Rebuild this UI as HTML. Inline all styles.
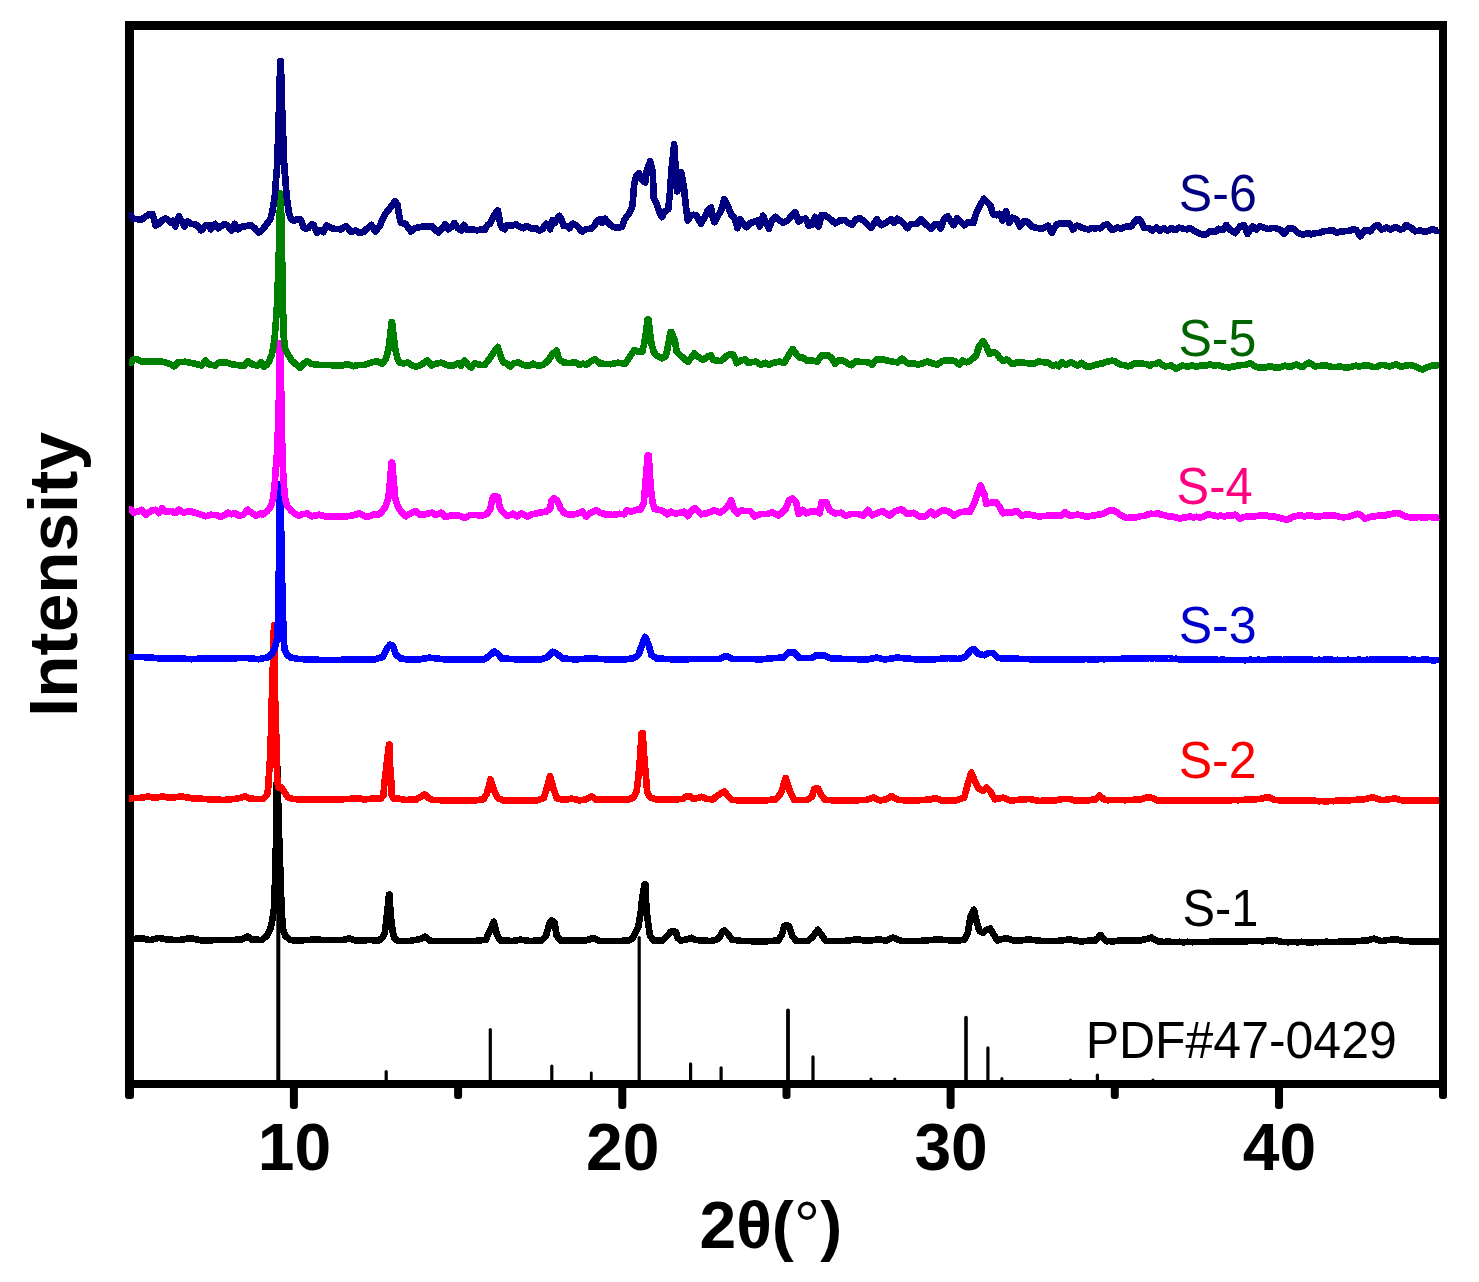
<!DOCTYPE html>
<html><head><meta charset="utf-8"><title>XRD patterns</title>
<style>
html,body{margin:0;padding:0;background:#fff;}
body{width:1479px;height:1282px;overflow:hidden;}
svg{display:block;}
text{font-family:"Liberation Sans",Arial,Helvetica,sans-serif;}
.b{font-weight:bold;}
</style></head><body>
<svg width="1479" height="1282" viewBox="0 0 1479 1282">
<rect x="0" y="0" width="1479" height="1282" fill="#ffffff"/>
<g stroke="#000" stroke-linecap="round">
<line x1="278.3" y1="906.0" x2="278.3" y2="1084" stroke-width="4.0"/>
<line x1="386.2" y1="1071.6" x2="386.2" y2="1084" stroke-width="3.2"/>
<line x1="490.3" y1="1029.6" x2="490.3" y2="1084" stroke-width="3.2"/>
<line x1="551.8" y1="1066.1" x2="551.8" y2="1084" stroke-width="3.2"/>
<line x1="591.3" y1="1072.9" x2="591.3" y2="1084" stroke-width="2.8"/>
<line x1="639.2" y1="937.6" x2="639.2" y2="1084" stroke-width="3.2"/>
<line x1="690.6" y1="1063.9" x2="690.6" y2="1084" stroke-width="3.2"/>
<line x1="721.1" y1="1067.9" x2="721.1" y2="1084" stroke-width="3.2"/>
<line x1="788.0" y1="1010.4" x2="788.0" y2="1084" stroke-width="3.8"/>
<line x1="813.0" y1="1056.9" x2="813.0" y2="1084" stroke-width="3.2"/>
<line x1="871.0" y1="1079.0" x2="871.0" y2="1084" stroke-width="3.0"/>
<line x1="894.8" y1="1079.0" x2="894.8" y2="1084" stroke-width="3.0"/>
<line x1="966.0" y1="1017.6" x2="966.0" y2="1084" stroke-width="3.6"/>
<line x1="987.9" y1="1047.8" x2="987.9" y2="1084" stroke-width="3.2"/>
<line x1="1001.9" y1="1078.5" x2="1001.9" y2="1084" stroke-width="3.0"/>
<line x1="1070.5" y1="1080.0" x2="1070.5" y2="1084" stroke-width="3.0"/>
<line x1="1097.4" y1="1075.2" x2="1097.4" y2="1084" stroke-width="3.2"/>
<line x1="1153.0" y1="1080.0" x2="1153.0" y2="1084" stroke-width="3.0"/>
</g>
<g fill="#000">
<rect x="125" y="21" width="9" height="1067"/>
<rect x="1439" y="21" width="8" height="1067"/>
<rect x="125" y="21" width="1322" height="9"/>
<rect x="125" y="1080" width="1322" height="8"/>
</g>
<g fill="#000">
<rect x="125.0" y="1084" width="9" height="15" rx="3"/>
<rect x="289.9" y="1084" width="8" height="25" rx="3"/>
<rect x="454.1" y="1084" width="8" height="15" rx="3"/>
<rect x="618.3" y="1084" width="8" height="25" rx="3"/>
<rect x="782.5" y="1084" width="8" height="15" rx="3"/>
<rect x="946.6" y="1084" width="8" height="25" rx="3"/>
<rect x="1110.8" y="1084" width="8" height="15" rx="3"/>
<rect x="1275.0" y="1084" width="8" height="25" rx="3"/>
<rect x="1439.0" y="1084" width="8" height="15" rx="3"/>
</g>
<polyline points="129.2,939.2 131.2,939.2 141.6,938.3 150.3,940.1 158.9,937.9 167.6,939.6 178.4,940.1 187.1,938.8 193.6,938.8 202.2,940.5 215.2,940.1 228.2,940.1 241.2,939.6 247.7,936.6 252.0,939.6 262.0,940.0 267.0,935.6 270.1,929.4 272.1,921.6 274.3,906.0 274.8,887.3 275.6,859.2 276.3,828.0 276.6,796.8 277.1,768.0 277.6,768.0 278.0,796.8 278.8,828.0 279.9,859.2 280.9,887.3 281.4,906.0 282.4,921.6 283.0,929.4 285.1,935.6 290.0,940.0 297.4,940.5 314.7,939.6 327.7,940.1 342.8,940.1 349.3,938.3 355.8,940.5 368.8,940.1 379.0,940.3 382.1,937.9 384.8,932.6 387.1,913.7 389.0,894.7 389.6,894.7 390.5,913.7 392.9,932.6 394.1,937.9 397.0,940.3 398.0,940.9 409.9,940.9 419.7,939.2 425.1,936.6 430.5,940.9 452.3,941.0 474.6,941.0 485.8,939.7 489.1,932.6 493.8,921.8 496.9,934.8 500.3,940.4 512.6,941.0 520.4,939.7 530.4,941.0 541.6,940.4 546.0,935.9 549.4,923.6 551.6,920.3 554.5,922.5 556.7,935.9 560.5,940.4 572.8,940.4 586.2,940.4 593.3,938.1 600.0,941.0 617.9,941.0 628.7,940.6 632.3,938.5 635.7,932.6 638.4,926.3 640.7,912.8 642.0,899.4 644.5,884.5 645.6,884.5 645.9,899.4 646.8,912.8 648.6,926.3 649.9,935.2 652.9,940.3 662.8,940.3 667.3,935.8 670.9,931.7 673.9,930.9 676.2,932.6 677.5,937.9 680.7,940.6 686.1,939.6 691.5,937.8 695.1,939.9 702.2,940.6 711.2,941.0 716.6,939.6 720.0,936.7 721.8,932.6 724.5,930.3 728.5,934.8 732.3,939.7 742.4,941.0 764.2,941.4 778.4,940.5 781.9,934.5 784.3,925.8 789.0,925.8 792.1,935.7 796.1,940.9 808.0,940.9 812.7,936.9 817.7,929.8 822.2,935.7 825.7,940.9 844.7,940.9 857.7,939.3 865.9,940.9 879.0,939.5 886.1,940.5 893.2,937.6 901.4,940.9 920.4,940.9 936.9,939.5 953.5,940.5 964.2,940.0 967.7,933.4 970.5,916.8 973.9,909.7 977.2,923.9 979.5,931.0 983.1,932.9 986.6,929.8 990.2,928.6 993.7,934.5 997.3,940.5 1005.6,938.1 1015.0,940.9 1029.2,939.5 1041.1,940.9 1057.6,940.9 1069.5,939.5 1081.3,941.4 1086.0,940.9 1089.0,940.8 1092.0,940.6 1095.0,940.6 1097.8,938.0 1100.5,935.1 1103.4,938.4 1106.3,941.3 1109.0,941.1 1111.7,941.3 1114.4,941.2 1117.1,941.0 1119.8,940.4 1122.5,940.6 1125.4,940.8 1128.4,940.4 1131.3,940.7 1134.2,940.4 1137.1,940.6 1140.0,940.6 1142.9,939.8 1145.7,939.2 1148.5,938.5 1151.3,937.6 1155.0,939.8 1158.8,941.6 1161.4,941.8 1164.0,941.9 1166.6,941.8 1169.2,941.7 1171.8,941.9 1174.4,941.9 1177.0,942.0 1179.7,941.8 1182.3,942.2 1184.9,942.2 1187.5,941.8 1190.1,942.1 1192.8,942.2 1195.4,942.0 1198.1,942.0 1200.8,942.1 1203.5,942.0 1206.2,941.9 1208.8,942.0 1211.5,941.6 1214.2,941.5 1216.9,941.6 1219.6,941.6 1222.2,941.4 1224.9,941.3 1227.6,941.6 1230.3,941.5 1233.0,941.7 1235.6,941.6 1238.3,941.4 1241.0,941.6 1243.7,941.4 1246.4,941.4 1249.0,941.0 1251.7,941.1 1254.4,941.1 1257.1,940.9 1259.8,941.1 1262.5,941.2 1265.1,941.1 1268.5,940.5 1271.8,940.3 1275.1,940.1 1278.9,941.2 1282.6,942.1 1285.4,942.0 1288.1,942.2 1290.8,941.9 1293.5,941.9 1296.2,942.2 1298.9,942.2 1301.6,941.8 1304.3,942.1 1307.0,942.2 1309.7,942.2 1312.5,942.2 1315.2,942.1 1317.8,942.2 1320.5,941.9 1323.2,942.0 1325.9,941.8 1328.6,941.9 1331.3,942.0 1333.9,942.0 1336.6,941.9 1339.3,941.8 1342.0,941.5 1344.7,941.9 1347.3,941.6 1350.0,941.8 1352.7,941.6 1355.8,941.1 1359.0,941.1 1362.1,940.8 1365.2,940.6 1368.1,940.2 1371.0,939.4 1374.0,938.6 1377.7,939.8 1381.5,941.1 1384.6,940.7 1387.7,940.0 1390.9,939.8 1394.0,939.1 1396.8,939.4 1399.6,940.3 1402.4,940.8 1405.2,941.1 1408.2,941.0 1411.1,941.4 1414.0,941.5 1416.9,941.5 1419.8,941.7 1422.7,941.6 1425.5,941.6 1428.2,941.5 1430.9,941.8 1433.6,941.6 1436.3,941.6 1439.0,941.6" fill="none" stroke="#000000" stroke-width="6.7" stroke-linejoin="round" stroke-linecap="butt" shape-rendering="crispEdges"/>
<polyline points="129.2,798.2 131.2,798.2 141.6,797.8 148.1,796.5 154.6,797.8 162.2,796.5 169.8,797.8 181.7,796.5 191.4,798.2 206.5,799.1 223.9,800.0 236.8,798.7 245.1,796.5 249.8,798.7 260.6,799.1 263.5,798.8 267.1,794.9 268.1,789.4 268.5,781.6 269.6,766.0 270.2,755.9 270.9,734.8 271.7,703.6 272.7,672.4 274.0,625.6 274.6,625.6 274.6,672.4 275.2,703.6 276.2,734.8 276.5,755.9 276.8,766.0 277.3,781.6 278.5,787.6 281.5,787.4 284.6,792.5 287.7,797.2 292.4,799.0 303.9,799.5 325.5,799.5 347.2,799.1 358.0,798.2 364.5,799.5 375.3,798.2 381.0,798.5 383.5,795.3 384.3,783.7 386.6,764.8 389.0,744.6 389.6,744.6 390.0,764.8 391.4,783.7 391.8,795.3 394.0,799.0 395.9,798.2 405.6,800.0 416.4,799.5 421.2,796.5 424.6,794.3 428.3,797.8 432.6,800.0 452.3,800.4 474.6,800.4 483.5,799.3 486.9,793.7 490.6,779.2 494.3,791.5 498.0,798.2 503.6,800.4 519.2,800.4 537.1,800.4 543.8,798.2 546.5,789.2 550.0,775.9 553.6,789.2 556.7,798.2 563.9,800.0 571.7,798.6 579.5,800.4 586.2,799.3 591.8,796.4 596.2,800.0 600.0,799.3 617.9,799.6 628.7,799.3 633.2,797.8 636.6,791.7 638.4,776.5 640.2,755.9 641.6,733.3 642.7,733.3 644.1,755.9 645.9,776.5 647.2,791.7 650.2,797.5 655.6,799.3 671.7,799.6 682.5,798.9 686.1,796.8 689.7,796.2 693.3,798.9 697.8,798.0 701.9,796.8 705.8,798.9 713.0,799.3 716.6,796.2 720.0,793.9 724.1,791.5 727.9,795.9 731.7,800.0 742.4,800.4 764.2,800.5 776.0,799.3 780.8,793.4 785.8,778.0 790.2,792.2 794.5,800.0 806.8,800.0 812.0,796.9 814.4,788.6 818.1,788.6 821.5,795.2 825.2,800.0 844.7,800.5 865.9,800.0 873.5,797.6 880.1,800.5 886.1,799.3 891.5,796.2 897.9,800.0 915.6,800.5 929.8,799.5 935.8,798.1 941.7,800.5 955.9,800.5 964.2,797.6 967.2,786.3 971.2,772.5 975.3,782.0 978.3,788.6 983.1,791.0 986.6,787.4 990.2,791.0 994.9,799.3 1003.2,797.6 1010.3,800.5 1029.2,799.0 1038.7,800.9 1055.3,800.5 1062.4,799.0 1069.5,799.0 1076.5,800.9 1086.0,800.5 1089.0,800.2 1092.0,799.8 1095.0,799.6 1099.5,795.6 1102.3,798.0 1105.0,800.1 1108.0,800.2 1111.0,800.0 1114.0,800.1 1117.0,800.1 1120.0,800.1 1122.9,800.1 1125.7,800.2 1128.6,800.0 1131.5,800.0 1134.3,799.8 1137.2,799.5 1140.0,799.6 1143.4,798.6 1146.7,797.6 1150.0,797.1 1153.8,798.8 1157.6,800.6 1160.3,800.4 1163.0,800.4 1165.7,800.4 1168.4,800.3 1171.1,800.7 1173.8,800.5 1176.5,800.7 1179.2,800.8 1181.9,800.4 1184.7,800.6 1187.4,800.3 1190.1,800.6 1192.9,800.3 1195.6,800.7 1198.4,800.3 1201.2,800.9 1204.0,800.4 1206.8,800.8 1209.5,800.8 1212.3,800.3 1215.1,800.6 1217.9,800.4 1220.7,800.4 1223.4,800.2 1226.2,800.2 1229.0,800.2 1231.8,800.2 1234.6,800.0 1237.3,800.2 1240.1,800.1 1243.0,799.9 1245.8,799.8 1248.7,799.4 1251.5,799.7 1254.4,799.3 1257.3,799.1 1260.1,799.1 1263.0,798.2 1266.0,797.6 1268.9,797.1 1272.0,798.6 1275.1,800.1 1277.9,800.1 1280.6,800.4 1283.4,800.2 1286.1,800.2 1288.9,800.5 1291.7,800.5 1294.4,800.7 1297.2,800.7 1299.9,800.6 1302.7,800.6 1305.4,800.8 1308.2,800.5 1311.0,800.6 1313.8,800.6 1316.6,801.1 1319.3,801.2 1322.1,801.0 1324.9,801.4 1327.7,801.3 1330.5,801.0 1333.2,801.2 1336.0,800.7 1338.8,800.6 1341.6,800.5 1344.4,800.5 1347.1,800.5 1349.9,800.2 1352.7,800.1 1355.8,800.0 1359.0,799.3 1362.1,799.4 1365.2,799.1 1368.1,798.3 1371.0,797.8 1374.0,797.6 1377.7,798.8 1381.5,800.1 1384.6,799.9 1387.7,799.4 1390.9,799.1 1394.0,798.6 1396.8,798.9 1399.6,799.8 1402.4,800.3 1405.2,800.6 1408.2,800.6 1411.1,800.7 1414.0,800.6 1416.9,800.8 1419.8,800.5 1422.7,800.6 1425.5,800.6 1428.2,800.4 1430.9,800.7 1433.6,800.6 1436.3,800.7 1439.0,800.6" fill="none" stroke="#ff0000" stroke-width="6.7" stroke-linejoin="round" stroke-linecap="butt" shape-rendering="crispEdges"/>
<polyline points="129.2,657.0 131.2,657.0 141.6,657.0 152.5,657.7 163.3,658.8 176.3,658.3 191.4,659.2 206.5,658.3 219.5,658.3 232.5,658.3 245.5,657.9 258.5,659.2 268.2,657.2 271.7,654.0 274.3,649.4 276.8,640.0 277.7,626.0 278.4,610.4 278.7,579.2 279.3,548.0 279.6,516.8 279.7,484.4 280.2,484.4 280.9,516.8 281.5,548.0 282.1,579.2 282.7,610.4 283.4,626.0 283.7,640.0 284.6,649.4 286.6,654.0 290.0,657.2 297.4,658.8 310.4,659.6 327.7,660.1 345.0,659.8 362.3,659.8 375.3,659.2 382.9,657.0 386.6,649.0 390.0,644.7 393.0,645.8 395.9,654.4 400.2,658.3 409.9,659.8 420.7,659.2 429.4,657.7 443.4,659.2 463.5,659.2 484.7,659.2 489.8,655.4 494.3,651.4 498.0,654.1 501.8,658.5 519.2,659.4 541.6,659.2 547.8,657.0 552.7,651.8 557.2,654.1 562.8,658.5 575.0,659.4 590.6,658.5 608.5,659.4 626.3,659.2 634.1,658.1 638.6,654.7 642.0,644.7 645.1,636.9 648.7,644.7 651.3,654.7 656.5,658.5 675.4,659.4 697.7,659.0 718.9,659.0 726.3,655.9 732.3,659.0 746.8,659.0 761.8,659.3 773.7,658.1 783.1,657.6 789.0,652.2 793.8,652.2 799.7,658.1 811.5,658.1 816.3,655.2 823.4,655.2 829.3,658.1 844.7,659.0 868.3,659.3 876.6,657.6 884.9,659.5 896.7,657.6 915.6,659.3 934.6,659.3 948.8,658.1 958.2,659.0 965.3,656.9 970.1,651.0 973.6,649.1 978.3,653.8 984.3,655.2 989.0,652.9 992.5,652.9 998.5,658.1 1010.3,658.6 1034.0,659.3 1057.6,659.3 1081.3,659.3 1084.1,659.2 1086.9,659.1 1089.7,659.5 1092.5,659.4 1095.3,659.3 1098.2,659.3 1101.0,658.9 1103.8,659.3 1106.6,658.9 1109.4,659.0 1112.2,659.1 1115.0,659.1 1117.7,658.9 1120.4,658.9 1123.0,658.8 1125.7,658.6 1128.4,658.6 1131.0,658.7 1133.7,658.7 1136.4,658.6 1139.0,658.3 1141.7,658.6 1144.4,658.4 1147.0,658.4 1149.7,658.1 1152.4,658.3 1155.0,658.1 1157.7,658.4 1160.4,658.2 1163.1,658.5 1165.8,658.7 1168.5,658.8 1171.2,658.8 1173.9,658.9 1176.6,658.8 1179.3,659.3 1182.0,659.3 1184.7,659.3 1187.4,659.6 1190.1,659.6 1192.7,659.7 1195.3,659.8 1198.0,659.8 1200.6,659.7 1203.2,659.7 1205.9,659.5 1208.5,659.7 1211.1,659.6 1213.8,659.6 1216.4,659.6 1219.0,660.0 1221.7,659.7 1224.3,659.8 1226.9,660.0 1229.6,659.9 1232.2,660.0 1234.8,659.9 1237.5,660.1 1240.1,660.1 1242.7,660.1 1245.4,660.2 1248.0,659.9 1250.6,659.8 1253.3,659.9 1255.9,660.0 1258.5,659.7 1261.2,660.1 1263.8,660.0 1266.4,660.0 1269.1,659.6 1271.7,659.8 1274.3,659.5 1277.0,659.6 1279.6,659.5 1282.2,659.9 1284.9,659.8 1287.5,659.6 1290.2,659.6 1292.8,659.6 1295.4,659.7 1298.1,659.8 1300.7,659.6 1303.3,659.6 1306.0,659.9 1308.6,659.6 1311.2,659.5 1313.9,660.0 1316.5,660.0 1319.1,659.8 1321.8,660.0 1324.4,659.7 1327.0,659.7 1329.7,659.7 1332.3,659.8 1334.9,660.0 1337.6,659.8 1340.2,660.1 1342.8,660.1 1345.5,660.0 1348.1,659.8 1350.7,660.1 1353.4,659.9 1356.0,660.0 1358.6,659.6 1361.3,659.9 1363.9,660.0 1366.5,659.8 1369.2,659.9 1371.8,659.5 1374.4,659.6 1377.1,659.8 1379.7,659.7 1382.3,659.6 1385.0,659.5 1387.6,659.5 1390.2,659.6 1392.9,659.7 1395.6,659.8 1398.4,659.8 1401.1,659.6 1403.8,659.8 1406.5,659.6 1409.2,660.0 1411.9,659.8 1414.6,659.7 1417.3,660.0 1420.0,659.9 1422.7,659.8 1425.5,659.8 1428.2,659.8 1430.9,660.1 1433.6,660.3 1436.3,660.1 1439.0,660.1" fill="none" stroke="#0000ff" stroke-width="6.7" stroke-linejoin="round" stroke-linecap="butt" shape-rendering="crispEdges"/>
<polyline points="129.2,509.8 131.2,509.8 134.1,512.7 138.4,511.4 141.6,509.8 146.0,514.8 151.4,510.5 155.7,509.8 158.9,513.1 162.2,508.3 166.5,512.0 170.8,510.9 175.2,513.1 178.8,509.8 183.8,512.7 189.2,510.9 194.6,512.7 200.1,514.2 205.5,516.3 210.9,514.8 216.3,515.2 220.6,517.0 224.9,514.8 228.2,512.7 231.4,514.2 234.7,513.1 239.0,515.7 243.3,514.8 247.7,509.8 252.0,513.1 256.3,515.7 261.7,513.1 263.0,514.5 267.4,511.0 270.9,506.3 273.2,498.5 274.6,486.0 275.6,470.4 276.8,456.4 277.6,439.2 278.7,408.0 279.4,376.8 279.6,343.6 280.1,343.6 280.9,376.8 281.5,408.0 282.1,439.2 282.4,456.4 283.0,470.4 284.0,486.0 285.1,498.5 287.4,506.3 291.6,511.0 296.0,514.5 298.5,515.7 302.8,514.2 307.1,513.5 311.5,516.3 319.0,514.8 325.5,516.3 336.4,516.3 347.2,516.3 353.7,515.2 359.1,513.5 363.4,515.7 367.7,517.0 373.1,514.8 379.6,514.2 382.0,511.7 385.7,506.3 388.4,497.3 390.2,479.4 391.5,462.7 392.1,462.7 393.6,479.4 395.0,497.3 397.7,506.3 401.0,511.7 405.6,516.3 411.0,513.1 415.3,510.9 419.7,514.8 425.1,514.2 431.6,512.7 435.6,514.9 441.2,512.7 445.2,517.1 450.1,515.6 459.0,515.6 464.6,517.8 470.2,514.9 475.7,514.9 481.3,516.0 486.9,513.8 490.2,509.3 492.5,498.2 494.7,495.9 498.0,497.1 499.6,507.1 502.5,511.6 507.0,516.0 513.0,513.8 517.0,516.5 521.5,513.3 527.1,516.5 532.6,514.2 539.3,512.7 546.0,511.6 550.0,509.3 551.6,500.4 553.8,498.2 557.2,500.4 560.5,508.2 563.9,512.7 569.4,514.9 577.3,513.8 582.2,511.6 586.2,516.5 590.6,512.7 596.2,510.4 600.0,512.6 605.4,514.3 612.6,514.9 619.7,513.8 624.2,514.3 626.9,510.2 631.4,511.7 635.9,509.9 640.4,509.5 643.8,502.7 645.0,488.3 646.5,470.4 647.7,455.5 648.8,455.5 649.5,470.4 650.8,488.3 652.6,502.7 654.7,509.0 659.2,509.9 662.8,510.8 667.3,514.3 670.9,511.7 675.3,513.5 680.7,512.6 684.3,511.7 687.9,516.1 691.5,510.8 694.7,508.1 697.8,510.8 701.3,514.3 707.6,513.1 713.9,510.2 720.0,512.6 723.4,510.4 727.9,506.0 731.2,500.4 733.9,509.3 737.5,513.3 741.2,510.4 745.7,511.1 750.2,511.1 754.7,516.4 760.6,514.0 766.6,514.0 772.5,512.3 778.4,515.7 785.5,509.3 789.0,500.5 792.6,498.6 796.1,502.2 798.5,514.0 802.5,510.0 806.3,513.3 810.3,511.6 816.3,511.6 819.8,513.3 821.5,502.2 826.2,502.2 830.0,510.5 835.2,513.3 841.1,512.8 845.8,515.7 850.6,514.0 857.7,514.0 863.1,515.7 867.8,510.0 871.9,515.2 876.6,513.3 882.5,510.9 889.6,515.7 894.3,511.6 901.4,509.3 907.4,514.0 913.3,512.8 919.2,516.4 925.1,516.4 931.0,511.6 934.6,515.2 939.3,512.3 944.0,510.0 948.8,511.6 954.0,515.7 959.4,512.3 965.3,511.6 970.1,511.6 973.6,504.5 976.7,496.3 980.5,485.6 984.3,493.9 986.2,503.8 990.2,502.9 996.1,502.2 999.6,506.9 1003.2,513.3 1007.9,512.3 1011.5,512.8 1016.2,510.9 1022.1,515.7 1026.9,514.0 1032.8,515.2 1038.7,516.4 1048.2,515.7 1061.2,515.7 1065.2,512.3 1069.5,515.7 1077.7,514.7 1086.0,516.4 1088.8,516.3 1091.6,515.8 1094.4,515.4 1097.2,514.9 1100.0,514.6 1103.8,513.5 1107.5,511.3 1110.6,510.3 1113.8,510.6 1117.5,512.7 1121.3,515.6 1124.4,517.0 1127.5,518.1 1130.9,517.2 1134.2,517.6 1137.5,517.1 1140.9,516.0 1144.2,515.9 1147.5,514.6 1150.9,513.7 1154.2,514.1 1157.6,513.1 1160.9,514.8 1164.2,514.9 1167.6,516.3 1170.7,516.6 1173.8,516.8 1176.9,517.8 1180.1,518.8 1183.4,517.6 1186.7,517.2 1190.1,516.3 1193.4,517.5 1196.7,516.8 1200.1,517.6 1203.8,516.4 1207.6,514.6 1210.9,514.9 1214.3,515.5 1217.6,516.3 1220.9,515.6 1224.3,516.4 1227.6,515.6 1231.4,515.8 1235.1,514.6 1240.1,518.8 1243.9,517.1 1247.6,516.3 1250.7,516.5 1253.9,516.3 1257.0,516.1 1260.1,515.6 1263.3,515.6 1266.4,515.3 1269.5,516.5 1272.6,516.3 1276.4,517.1 1280.1,518.1 1283.3,518.7 1286.4,519.6 1289.3,519.0 1292.2,516.9 1295.2,516.3 1298.3,515.7 1301.4,515.6 1304.5,516.5 1307.7,515.6 1310.8,515.7 1313.9,516.0 1317.0,516.6 1320.2,516.3 1323.5,515.8 1326.8,515.1 1330.2,515.6 1333.5,515.7 1336.9,515.9 1340.2,517.1 1343.5,517.2 1346.9,517.1 1350.2,516.3 1353.9,514.9 1357.7,513.8 1361.5,515.6 1365.2,518.8 1368.5,517.3 1371.9,516.5 1375.2,516.3 1378.5,515.6 1381.9,515.8 1385.2,515.6 1388.0,514.2 1390.9,514.2 1393.7,513.5 1396.5,513.1 1399.4,513.6 1402.3,514.8 1405.2,516.3 1408.6,517.0 1411.9,517.5 1415.2,517.6 1418.4,517.0 1421.5,517.3 1424.6,517.8 1427.8,517.1 1430.6,517.1 1433.4,517.6 1436.2,517.8 1439.0,517.1" fill="none" stroke="#ff00ff" stroke-width="6.7" stroke-linejoin="round" stroke-linecap="butt" shape-rendering="crispEdges"/>
<polyline points="129.2,362.7 131.2,362.7 133.0,359.5 136.2,359.0 141.6,361.8 150.3,361.8 157.9,361.2 165.4,362.3 170.8,364.4 174.1,366.2 178.0,362.3 184.9,361.8 193.6,363.3 201.8,365.5 205.5,360.5 209.1,364.4 215.2,365.5 219.5,362.3 226.0,362.3 232.5,364.4 241.2,365.5 244.4,365.5 248.1,361.2 252.0,364.4 257.4,365.5 261.1,362.3 263.9,366.6 266.7,365.0 269.3,361.0 271.7,354.7 273.2,348.5 274.8,336.0 276.0,320.4 276.8,309.5 277.6,289.2 278.7,258.0 279.6,226.8 280.1,193.6 280.7,193.6 281.5,226.8 282.1,258.0 282.7,289.2 283.0,309.5 283.4,320.4 283.7,336.0 285.1,348.5 288.2,354.7 292.1,361.0 298.6,366.4 300.0,367.7 303.9,363.3 307.1,361.2 311.5,364.0 319.0,364.9 327.7,364.9 336.4,365.5 342.8,365.5 347.2,364.0 353.7,366.2 358.0,364.9 364.5,364.9 372.1,362.3 377.5,361.2 381.8,364.0 385.7,359.2 388.4,350.2 390.2,335.9 391.5,322.2 392.1,322.2 393.6,335.9 395.4,350.2 397.7,359.2 399.1,362.3 403.4,363.3 407.8,362.7 412.1,365.5 416.4,366.6 421.8,364.4 427.2,360.5 431.6,365.5 435.6,363.7 441.2,362.6 447.8,365.3 454.5,365.3 457.9,363.1 460.8,366.0 464.6,360.4 467.9,364.9 471.3,367.5 474.6,363.1 480.2,364.9 484.7,364.9 488.5,360.0 493.6,352.6 497.8,347.0 501.0,357.1 503.6,362.6 507.0,363.7 510.3,366.6 513.7,363.1 519.2,362.6 523.7,364.9 528.2,366.0 533.1,363.7 538.2,366.0 543.8,364.4 548.3,360.4 552.7,353.7 556.7,350.4 559.0,359.3 563.9,362.6 569.4,363.1 575.0,362.2 579.5,364.9 582.8,363.7 586.2,364.9 590.6,361.5 595.1,359.3 599.6,363.1 600.0,363.7 610.8,364.2 617.9,362.8 625.1,363.7 629.6,357.4 634.1,350.2 638.6,351.7 642.2,352.0 643.9,344.8 645.6,335.9 647.5,319.6 648.6,319.6 650.4,335.9 651.7,344.8 653.8,352.0 656.5,355.6 661.9,358.3 665.5,356.5 667.3,350.2 669.1,339.5 670.5,332.1 671.6,332.1 675.0,341.3 676.8,352.0 680.7,355.6 687.9,361.9 691.5,357.4 694.2,353.5 697.8,356.5 703.1,360.1 707.6,356.5 710.9,355.2 713.4,360.1 720.0,361.0 722.3,360.0 726.7,355.9 730.1,354.2 733.4,354.8 736.8,363.1 741.2,360.4 745.0,359.3 747.9,362.6 755.9,361.6 760.6,364.7 765.4,362.8 768.9,364.7 773.7,362.8 779.6,361.6 784.3,362.8 788.3,355.7 792.6,349.1 796.1,353.8 800.2,358.1 803.2,357.6 806.8,360.9 811.5,360.5 817.4,361.6 821.0,355.7 828.1,355.2 831.6,358.1 835.2,364.0 838.7,360.0 843.5,360.9 847.5,363.3 851.3,365.2 855.3,361.6 868.3,362.3 871.9,364.7 876.6,359.3 882.5,359.3 887.2,360.5 892.0,361.6 897.9,362.3 901.9,358.6 907.4,363.3 913.3,363.3 918.0,364.7 922.7,363.3 927.5,361.6 932.2,363.3 936.9,364.7 942.9,360.9 947.6,360.5 954.7,360.9 959.4,364.7 963.0,360.5 966.5,362.3 970.1,360.9 976.0,355.7 979.1,346.3 983.1,341.1 986.2,346.3 989.5,353.8 993.7,352.2 996.6,353.4 999.6,358.1 1003.2,360.9 1006.7,359.3 1012.7,364.0 1017.4,362.3 1024.5,362.8 1034.0,364.0 1038.2,361.6 1048.2,362.8 1052.9,365.7 1056.4,364.7 1058.8,366.4 1061.9,362.3 1065.9,364.7 1070.6,362.3 1077.7,365.7 1081.3,362.8 1087.2,367.1 1090.4,366.4 1093.6,365.5 1096.8,364.5 1100.0,363.8 1102.9,363.4 1105.8,362.0 1108.8,361.3 1111.9,360.7 1115.0,361.3 1118.1,363.4 1121.3,365.1 1124.4,365.0 1127.5,366.3 1131.3,365.5 1135.0,363.1 1138.8,363.8 1142.5,363.8 1146.3,364.0 1150.0,365.6 1153.0,363.9 1155.9,364.0 1158.8,362.1 1161.9,364.6 1165.1,366.3 1168.2,366.1 1171.3,365.6 1176.3,368.8 1179.4,367.0 1182.6,365.6 1185.7,366.3 1188.8,366.4 1192.0,365.4 1195.1,366.3 1198.2,366.4 1201.3,365.3 1204.5,365.8 1207.6,365.1 1210.7,364.4 1213.8,365.8 1217.0,364.9 1220.1,365.6 1223.2,366.9 1226.4,367.1 1229.3,367.5 1232.2,366.6 1235.1,366.3 1238.4,365.4 1241.8,365.1 1245.1,365.1 1250.1,363.1 1255.1,366.3 1258.9,367.5 1262.6,367.6 1266.4,367.2 1270.1,366.3 1273.9,367.3 1277.6,367.6 1281.4,367.1 1285.1,365.6 1290.2,367.1 1293.3,365.4 1296.4,364.6 1299.5,366.0 1302.7,367.1 1305.8,364.1 1308.9,362.6 1312.0,364.5 1315.2,366.3 1318.9,366.0 1322.7,365.6 1325.8,365.2 1328.9,366.4 1332.1,366.9 1335.2,367.1 1338.2,366.7 1341.2,366.8 1344.2,367.4 1347.2,367.7 1350.2,367.1 1353.2,366.2 1356.2,365.7 1359.2,366.5 1362.2,365.8 1365.2,365.6 1369.0,365.7 1372.7,367.1 1376.5,366.8 1380.2,365.1 1383.6,365.0 1386.9,366.1 1390.2,366.3 1393.4,365.0 1396.5,364.6 1399.6,366.2 1402.7,366.3 1405.9,365.6 1409.0,365.1 1412.1,365.3 1415.2,366.3 1419.0,368.4 1422.7,369.6 1426.5,367.6 1430.3,366.3 1433.2,365.3 1436.1,365.3 1439.0,365.1" fill="none" stroke="#008000" stroke-width="6.7" stroke-linejoin="round" stroke-linecap="butt" shape-rendering="crispEdges"/>
<polyline points="129.2,215.7 131.2,215.7 133.0,218.7 141.6,219.6 146.0,216.3 149.2,214.2 152.5,214.2 154.2,219.6 155.7,225.6 158.9,223.9 162.2,220.0 165.9,218.5 168.7,220.7 170.8,222.8 173.0,220.7 175.2,226.5 176.7,221.7 178.8,216.3 181.7,221.3 184.5,226.5 187.5,221.3 190.3,223.5 196.8,225.0 201.1,230.4 205.5,225.6 208.7,225.0 210.9,229.3 213.5,225.0 215.2,223.9 218.4,228.2 223.9,224.3 227.1,225.0 231.4,230.4 234.7,223.9 237.9,229.3 242.2,226.5 246.6,226.1 250.9,225.0 254.6,228.2 258.5,232.6 262.8,229.3 266.0,224.9 270.2,219.4 272.4,211.6 274.8,196.0 275.9,180.4 277.1,167.1 277.7,149.2 278.7,118.0 279.6,86.8 280.2,61.4 280.8,61.4 281.5,86.8 282.4,118.0 283.7,149.2 284.3,167.1 285.5,180.4 286.6,196.0 288.7,211.6 291.2,219.4 294.0,220.5 296.3,219.6 300.7,219.6 303.9,228.2 308.2,228.2 311.5,224.3 313.6,225.0 316.9,232.6 320.1,230.4 323.4,232.1 326.6,225.6 333.1,228.7 340.7,229.3 346.1,226.1 351.5,232.1 355.8,230.4 359.1,232.6 363.4,232.1 368.8,227.1 371.4,225.0 375.3,231.5 379.6,226.1 385.0,214.2 389.4,208.8 392.6,204.4 395.2,201.2 397.4,204.4 399.1,215.2 400.8,222.8 405.6,223.9 411.0,231.5 415.3,228.2 422.9,226.5 431.6,226.1 434.5,228.9 438.5,232.7 442.3,228.2 445.2,224.4 448.3,229.3 451.2,227.1 454.5,223.1 457.9,228.2 461.2,230.4 463.9,224.9 466.8,229.8 472.4,229.3 476.9,230.4 481.3,229.3 484.7,229.8 487.6,224.9 490.2,223.7 493.6,215.9 497.8,210.4 500.3,223.7 502.5,228.2 504.7,229.3 507.0,225.3 511.4,226.0 515.9,224.4 520.4,227.1 523.7,228.2 526.4,226.0 530.4,228.2 536.0,228.2 539.3,230.4 542.7,228.9 546.0,223.7 548.3,224.4 550.0,229.3 552.3,220.4 554.9,223.1 557.6,218.2 559.4,215.9 561.6,219.3 563.4,226.0 566.5,226.0 569.4,228.2 572.8,223.7 576.1,225.3 579.0,228.2 582.2,231.6 586.2,228.9 590.6,228.9 594.0,226.0 597.3,220.4 600.0,219.3 602.2,222.6 605.1,218.6 608.0,222.6 611.8,226.0 615.2,227.5 619.6,227.5 622.3,226.6 624.6,219.3 628.1,214.8 630.8,210.4 632.6,204.8 634.1,184.7 636.4,175.8 638.6,173.1 640.8,176.9 643.1,181.4 645.3,182.5 646.9,170.2 650.2,161.3 652.7,171.3 653.8,198.1 656.5,203.7 659.8,213.7 662.0,217.1 664.7,211.5 668.3,209.2 669.8,193.6 671.4,171.3 674.1,144.5 676.1,175.8 677.2,191.4 678.8,186.9 681.2,172.4 683.9,186.9 685.7,204.8 687.7,220.4 691.0,215.9 693.3,214.8 696.6,215.5 698.9,220.4 701.1,223.7 704.0,218.2 707.8,210.4 711.1,207.5 712.9,218.2 714.5,222.2 717.8,215.9 721.2,210.4 724.2,199.2 727.9,205.9 731.2,214.8 734.6,218.2 737.5,228.2 740.1,219.3 743.5,223.7 746.4,227.1 750.2,223.1 754.7,221.6 757.6,220.5 759.9,226.4 763.0,215.7 766.1,222.8 768.9,228.7 771.8,220.5 775.6,216.9 779.6,220.5 783.1,222.8 787.9,220.0 791.4,216.2 795.4,212.2 798.5,221.6 802.1,219.3 805.6,218.6 808.7,225.7 812.0,224.7 815.1,216.9 818.6,226.4 821.5,215.2 825.2,215.2 830.5,219.3 835.2,223.3 839.9,220.5 844.7,220.0 848.9,223.3 852.2,224.7 856.0,219.3 860.0,218.1 864.8,221.6 871.2,228.0 876.8,219.3 881.3,225.2 886.1,222.8 890.8,219.3 893.9,222.8 897.2,218.6 902.6,222.3 907.4,228.0 910.9,224.0 916.8,224.0 920.8,219.3 926.3,224.7 931.0,228.7 935.0,224.0 938.1,224.0 940.5,228.7 944.0,219.3 947.6,216.2 951.1,221.6 953.5,225.2 957.1,218.1 960.6,221.6 964.2,225.2 967.7,222.3 973.6,222.8 976.0,213.4 979.5,206.3 983.9,198.7 990.2,205.1 993.3,214.5 996.1,215.2 999.6,213.8 1002.7,220.5 1006.0,211.0 1009.1,222.8 1012.2,217.6 1016.2,219.3 1019.8,226.4 1023.3,221.6 1026.9,221.6 1032.8,227.1 1037.5,228.0 1042.2,228.7 1048.2,225.7 1051.7,232.8 1056.4,224.7 1060.0,223.3 1069.5,223.3 1073.0,229.4 1076.5,225.7 1079.4,226.4 1084.8,228.7 1088.4,229.4 1091.4,227.9 1094.5,228.3 1097.5,228.1 1100.8,228.2 1104.2,225.0 1107.5,224.6 1112.5,230.1 1117.5,227.6 1121.3,228.8 1124.4,227.2 1127.5,226.3 1131.3,226.3 1136.3,219.6 1140.0,219.6 1143.8,227.6 1148.8,228.1 1152.5,230.6 1156.3,227.6 1160.1,230.6 1163.8,228.1 1167.6,230.6 1171.3,228.1 1175.1,230.1 1178.8,227.6 1183.8,228.8 1186.9,229.3 1190.1,228.1 1195.1,231.3 1200.1,233.8 1205.1,235.1 1210.1,231.3 1215.1,232.1 1218.8,228.8 1222.6,230.1 1226.4,225.1 1230.1,229.6 1235.1,233.1 1240.1,226.3 1243.9,225.1 1247.6,233.8 1252.6,226.3 1256.4,229.6 1260.1,226.3 1265.1,228.1 1268.5,229.1 1271.8,228.1 1275.1,228.1 1280.1,229.6 1283.9,233.8 1288.9,228.1 1293.9,228.8 1297.7,232.6 1302.7,234.6 1307.7,233.1 1311.4,234.3 1315.2,233.1 1318.9,233.1 1322.7,231.3 1326.4,231.0 1330.2,230.6 1333.3,230.6 1336.4,232.6 1339.6,231.8 1342.7,231.3 1346.4,231.0 1350.2,230.6 1353.3,229.0 1356.4,230.1 1360.2,236.3 1365.2,230.1 1370.2,231.3 1374.0,227.0 1377.7,225.1 1381.5,229.6 1386.5,227.6 1390.2,229.6 1395.2,227.1 1400.2,229.6 1403.4,228.5 1406.5,225.1 1411.5,228.1 1415.2,231.3 1420.2,230.6 1425.3,232.1 1430.3,230.1 1433.2,229.1 1436.1,231.1 1439.0,230.1" fill="none" stroke="#000080" stroke-width="6.7" stroke-linejoin="round" stroke-linecap="butt" shape-rendering="crispEdges"/>
<text class="b" x="294.4" y="1169.8" font-size="66" text-anchor="middle">10</text>
<text class="b" x="622.8" y="1169.8" font-size="66" text-anchor="middle">20</text>
<text class="b" x="951.1" y="1169.8" font-size="66" text-anchor="middle">30</text>
<text class="b" x="1279.5" y="1169.8" font-size="66" text-anchor="middle">40</text>
<text class="b" x="770.8" y="1247.8" font-size="66" text-anchor="middle">2θ(<tspan font-weight="normal">°</tspan>)</text>
<text class="b" transform="translate(76.5,574.5) rotate(-90)" font-size="69.3" text-anchor="middle">Intensity</text>
<text x="1178.8" y="211.3" font-size="51" fill="#000080" textLength="78" lengthAdjust="spacingAndGlyphs">S-6</text>
<text x="1178.4" y="356.0" font-size="51" fill="#006400" textLength="78" lengthAdjust="spacingAndGlyphs">S-5</text>
<text x="1176.6" y="504.3" font-size="51" fill="#ff0080" textLength="76" lengthAdjust="spacingAndGlyphs">S-4</text>
<text x="1178.7" y="643.2" font-size="51" fill="#0000cd" textLength="78" lengthAdjust="spacingAndGlyphs">S-3</text>
<text x="1178.7" y="778.2" font-size="51" fill="#ff0000" textLength="78" lengthAdjust="spacingAndGlyphs">S-2</text>
<text x="1182.4" y="925.8" font-size="51" fill="#000000" textLength="76" lengthAdjust="spacingAndGlyphs">S-1</text>
<text x="1085.7" y="1058" font-size="51" textLength="311" lengthAdjust="spacingAndGlyphs">PDF#47-0429</text>
</svg></body></html>
